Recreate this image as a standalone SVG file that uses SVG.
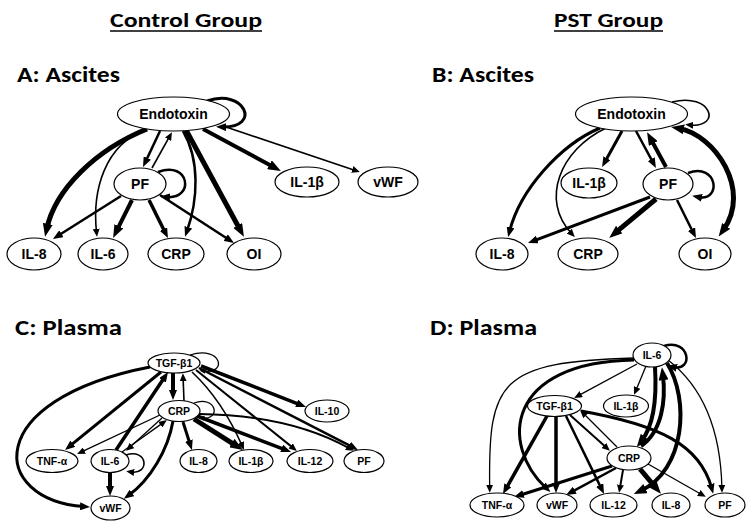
<svg xmlns="http://www.w3.org/2000/svg" width="751" height="530" viewBox="0 0 751 530">
<style>
.n{fill:#fff;stroke:#000;stroke-width:1.2}
.t{font-family:"Liberation Sans",Arial,sans-serif;font-weight:bold;text-anchor:middle;fill:#000}
.ab{font-size:14px}
.cd{font-size:10.5px}
.h{font-family:Carlito,Lato,"Open Sans",sans-serif;font-weight:bold;fill:#000}
.e{fill:none;stroke:#000;stroke-linecap:butt}
.w1{stroke-width:1.3}.w15{stroke-width:1.6}.w2{stroke-width:2}.w25{stroke-width:2.5}.w3{stroke-width:3}.w35{stroke-width:3.5}.w4{stroke-width:4}.w5{stroke-width:5}
.xs{marker-end:url(#xs)}.s{marker-end:url(#s)}.m{marker-end:url(#m)}.l{marker-end:url(#l)}
</style>
<defs>
<marker id="xs" viewBox="0 0 6 5" refX="2.4" refY="2.5" markerWidth="6" markerHeight="5" markerUnits="userSpaceOnUse" orient="auto-start-reverse"><path d="M0,0 L6,2.5 L0,5 z"/></marker>
<marker id="s" viewBox="0 0 8 7" refX="3.2" refY="3.5" markerWidth="8" markerHeight="7" markerUnits="userSpaceOnUse" orient="auto-start-reverse"><path d="M0,0 L8,3.5 L0,7 z"/></marker>
<marker id="m" viewBox="0 0 10 8" refX="4" refY="4" markerWidth="10" markerHeight="8" markerUnits="userSpaceOnUse" orient="auto-start-reverse"><path d="M0,0 L10,4 L0,8 z"/></marker>
<marker id="l" viewBox="0 0 13 10" refX="5.2" refY="5" markerWidth="13" markerHeight="10" markerUnits="userSpaceOnUse" orient="auto-start-reverse"><path d="M0,0 L13,5 L0,10 z"/></marker>
</defs>
<rect width="751" height="530" fill="#fff"/>

<g id="titles">
<text class="h" x="110" y="27" font-size="20" textLength="152" lengthAdjust="spacingAndGlyphs">Control Group</text>
<line x1="110" y1="31" x2="262" y2="31" stroke="#000" stroke-width="1.5"/>
<text class="h" x="554" y="27" font-size="20" textLength="109" lengthAdjust="spacingAndGlyphs">PST Group</text>
<line x1="554" y1="31" x2="663" y2="31" stroke="#000" stroke-width="1.5"/>
<text class="h" x="17" y="82" font-size="22" textLength="103" lengthAdjust="spacingAndGlyphs">A: Ascites</text>
<text class="h" x="432" y="82" font-size="22" textLength="102" lengthAdjust="spacingAndGlyphs">B: Ascites</text>
<text class="h" x="15" y="335" font-size="22" textLength="107" lengthAdjust="spacingAndGlyphs">C: Plasma</text>
<text class="h" x="430" y="335" font-size="22" textLength="107" lengthAdjust="spacingAndGlyphs">D: Plasma</text>
</g>

<g id="connectors">
<!-- Panel A -->
<path class="e w3 m" d="M207,101 C245,88 262,128 222,127"/>
<path class="e w5 l" d="M147,129 C95,150 55,190 46.7,229"/>
<path class="e w15 s" d="M145,130 C105,145 92,190 96.5,232"/>
<path class="e w25 m" d="M160,131 L145.6,161.6"/>
<path class="e w15 s" d="M152,168 L169.6,136.4"/>
<path class="e w25 m" d="M158,172 C190,160 195,200 166,197"/>
<path class="e w25 m" d="M183,131 C200,160 198,200 187,231"/>
<path class="e w5 l" d="M186,130 L240.2,230"/>
<path class="e w4 l" d="M203,129 L274,167.2"/>
<path class="e w15 s" d="M226,127 L355.3,170.4"/>
<path class="e w25 m" d="M121,196 L58,235.8"/>
<path class="e w4 l" d="M132,200 L116.6,230.9"/>
<path class="e w35 m" d="M149,200 L165.3,232.7"/>
<path class="e w25 m" d="M160,195 L229,239.8"/>
<!-- Panel B -->
<path class="e w15 s" d="M672,102 C712,92 722,128 690,125"/>
<path class="e w3 m" d="M600,128 C560,145 520,190 509.6,231.2"/>
<path class="e w15 s" d="M606,128 C560,150 540,200 571.5,233.5"/>
<path class="e w3 m" d="M622,131 L605,161.8"/>
<path class="e w25 m" d="M636,131 L653.1,162.7"/>
<path class="e w4 l" d="M666,167 L650.8,139"/>
<path class="e w25 m" d="M688,173 C718,162 722,202 698,197"/>
<path class="e w5 l" marker-start="url(#l)" d="M678.8,128.4 C715,135 752,190 723.2,230.2"/>
<path class="e w25 m" d="M677,200 L693.3,232.7"/>
<path class="e w3 m" d="M650,197 L533.6,240.9"/>
<path class="e w5 l" d="M656,199 L615.2,232.9"/>
<!-- Panel C -->
<path class="e w1 xs" d="M190,355 C222,345 228,375 203,371"/>
<path class="e w1 xs" d="M194,403 C216,395 222,420 202,418"/>
<path class="e w3 m" d="M150,367 C-20,400 -10,500 84,506.6"/>
<path class="e w3 m" d="M161,372 L69.7,446.2"/>
<path class="e w4 m" d="M173,373 L173,394"/>
<path class="e w15 s" d="M184,401 L183.1,378"/>
<path class="e w35 m" d="M116,450 L164.7,377"/>
<path class="e w15 s" d="M192,372 Q222,400 242,445.5"/>
<path class="e w2 s" d="M196,370 L293.1,447.9"/>
<path class="e w25 m" d="M199,368 L352.7,447.2"/>
<path class="e w35 m" d="M201,366 L300.4,404.8"/>
<path class="e w1 s" d="M160,415 L81.5,451.9"/>
<path class="e w1 s" d="M162,418 L129.6,447.6"/>
<path class="e w1 s" d="M122,452 L162.9,422.9"/>
<path class="e w3 m" d="M173,421 C168,450 150,480 128.7,495.3"/>
<path class="e w15 s" d="M126,455 C148,448 150,475 131,472"/>
<path class="e w4 m" d="M110,473 L110,490"/>
<path class="e w3 m" d="M183,422 L190.1,444.3"/>
<path class="e w5 l" d="M194,419 L236.3,445.8"/>
<path class="e w35 m" d="M197,416 L285.4,449.8"/>
<path class="e w2 s" d="M199,414 Q290,415 349.6,448.5"/>
<!-- Panel D -->
<path class="e w25 m" d="M664,346 C690,338 694,372 673,367"/>
<path class="e w1 s" d="M634,358 C500,362 488,380 489.7,488"/>
<path class="e w3 m" d="M634,360 C505,362 500,445 546,488"/>
<path class="e w1 s" d="M637,364 L578.4,395.6"/>
<path class="e w1 s" d="M646,366 L635.9,390.4"/>
<path class="e w4 l" d="M655,367 C657,400 654,425 641.5,441"/>
<path class="e w4 l" d="M641,446 C662,432 666,400 662.9,375"/>
<path class="e w4 l" d="M667,363 C690,400 685,470 640.8,490.8"/>
<path class="e w1 s" d="M668,360 Q720,400 721.9,488"/>
<path class="e w35 m" d="M547,416 L505.9,488.8"/>
<path class="e w35 m" d="M556,417 L556,487"/>
<path class="e w25 m" d="M566,416 L601.4,488.6"/>
<path class="e w2 s" d="M570,415 L606.3,447.6"/>
<path class="e w1 s" d="M617,447 L583.5,413.5"/>
<path class="e w3 m" d="M581,411 C660,425 700,445 711.6,488"/>
<path class="e w3 m" d="M612,466 L519.7,495.2"/>
<path class="e w25 m" d="M616,468 L571.3,492.1"/>
<path class="e w2 s" d="M623,470 L619.9,488.1"/>
<path class="e w5 l" d="M640,469 L655.9,487.8"/>
<path class="e w1 s" d="M648,464 L701.6,494.5"/>
</g>

<!-- Panel A nodes -->
<g id="A-Endotoxin"><ellipse class="n" cx="173.5" cy="114" rx="56" ry="17"/><text class="t ab" x="173.5" y="114" dy=".35em">Endotoxin</text></g>
<g id="A-PF"><ellipse class="n" cx="140" cy="184" rx="26" ry="16"/><text class="t ab" x="140" y="184" dy=".35em">PF</text></g>
<g id="A-IL1b"><ellipse class="n" cx="307" cy="182" rx="32" ry="15"/><text class="t ab" x="307" y="182" dy=".35em">IL-1β</text></g>
<g id="A-vWF"><ellipse class="n" cx="388" cy="182" rx="30" ry="15"/><text class="t ab" x="388" y="182" dy=".35em">vWF</text></g>
<g id="A-IL8"><ellipse class="n" cx="34" cy="254" rx="27" ry="16"/><text class="t ab" x="34" y="254" dy=".35em">IL-8</text></g>
<g id="A-IL6"><ellipse class="n" cx="103" cy="254" rx="25" ry="16"/><text class="t ab" x="103" y="254" dy=".35em">IL-6</text></g>
<g id="A-CRP"><ellipse class="n" cx="176" cy="254" rx="28" ry="16"/><text class="t ab" x="176" y="254" dy=".35em">CRP</text></g>
<g id="A-OI"><ellipse class="n" cx="254" cy="254" rx="27" ry="16"/><text class="t ab" x="254" y="254" dy=".35em">OI</text></g>

<!-- Panel B nodes -->
<g id="B-Endotoxin"><ellipse class="n" cx="631.5" cy="114" rx="56" ry="17"/><text class="t ab" x="631.5" y="114" dy=".35em">Endotoxin</text></g>
<g id="B-IL1b"><ellipse class="n" cx="589" cy="183" rx="28" ry="15"/><text class="t ab" x="589" y="183" dy=".35em">IL-1β</text></g>
<g id="B-PF"><ellipse class="n" cx="668" cy="184" rx="25" ry="16"/><text class="t ab" x="668" y="184" dy=".35em">PF</text></g>
<g id="B-IL8"><ellipse class="n" cx="502" cy="254" rx="26" ry="16"/><text class="t ab" x="502" y="254" dy=".35em">IL-8</text></g>
<g id="B-CRP"><ellipse class="n" cx="588" cy="254" rx="30" ry="16"/><text class="t ab" x="588" y="254" dy=".35em">CRP</text></g>
<g id="B-OI"><ellipse class="n" cx="705" cy="254" rx="26" ry="16"/><text class="t ab" x="705" y="254" dy=".35em">OI</text></g>

<!-- Panel C nodes -->
<g id="C-TGFb1"><ellipse class="n" cx="174" cy="363" rx="26" ry="10"/><text class="t cd" x="174" y="363" dy=".35em">TGF-β1</text></g>
<g id="C-CRP"><ellipse class="n" cx="179" cy="411" rx="21" ry="10.5"/><text class="t cd" x="179" y="411" dy=".35em">CRP</text></g>
<g id="C-IL10"><ellipse class="n" cx="327" cy="411" rx="22" ry="11"/><text class="t cd" x="327" y="411" dy=".35em">IL-10</text></g>
<g id="C-TNFa"><ellipse class="n" cx="52" cy="461" rx="26" ry="11.5"/><text class="t cd" x="52" y="461" dy=".35em">TNF-α</text></g>
<g id="C-IL6"><ellipse class="n" cx="110" cy="461" rx="19" ry="11.5"/><text class="t cd" x="110" y="461" dy=".35em">IL-6</text></g>
<g id="C-IL8"><ellipse class="n" cx="198.5" cy="461" rx="18.5" ry="11.5"/><text class="t cd" x="198.5" y="461" dy=".35em">IL-8</text></g>
<g id="C-IL1b"><ellipse class="n" cx="251" cy="461" rx="22" ry="11.5"/><text class="t cd" x="251" y="461" dy=".35em">IL-1β</text></g>
<g id="C-IL12"><ellipse class="n" cx="310" cy="461" rx="23" ry="11.5"/><text class="t cd" x="310" y="461" dy=".35em">IL-12</text></g>
<g id="C-PF"><ellipse class="n" cx="364" cy="461" rx="20" ry="11.5"/><text class="t cd" x="364" y="461" dy=".35em">PF</text></g>
<g id="C-vWF"><ellipse class="n" cx="110.5" cy="508" rx="19.5" ry="12"/><text class="t cd" x="110.5" y="508" dy=".35em">vWF</text></g>

<!-- Panel D nodes -->
<g id="D-IL6"><ellipse class="n" cx="652" cy="355" rx="19" ry="12"/><text class="t cd" x="652" y="355" dy=".35em">IL-6</text></g>
<g id="D-TGFb1"><ellipse class="n" cx="554.5" cy="406" rx="27" ry="10.5"/><text class="t cd" x="554.5" y="406" dy=".35em">TGF-β1</text></g>
<g id="D-IL1b"><ellipse class="n" cx="626" cy="406" rx="22.5" ry="11"/><text class="t cd" x="626" y="406" dy=".35em">IL-1β</text></g>
<g id="D-CRP"><ellipse class="n" cx="629" cy="458" rx="22" ry="12"/><text class="t cd" x="629" y="458" dy=".35em">CRP</text></g>
<g id="D-TNFa"><ellipse class="n" cx="497" cy="505" rx="27" ry="12"/><text class="t cd" x="497" y="505" dy=".35em">TNF-α</text></g>
<g id="D-vWF"><ellipse class="n" cx="557" cy="505" rx="20" ry="12"/><text class="t cd" x="557" y="505" dy=".35em">vWF</text></g>
<g id="D-IL12"><ellipse class="n" cx="613.5" cy="505" rx="23.5" ry="12"/><text class="t cd" x="613.5" y="505" dy=".35em">IL-12</text></g>
<g id="D-IL8"><ellipse class="n" cx="671" cy="505" rx="19" ry="12"/><text class="t cd" x="671" y="505" dy=".35em">IL-8</text></g>
<g id="D-PF"><ellipse class="n" cx="725" cy="505" rx="20" ry="12"/><text class="t cd" x="725" y="505" dy=".35em">PF</text></g>
</svg>
